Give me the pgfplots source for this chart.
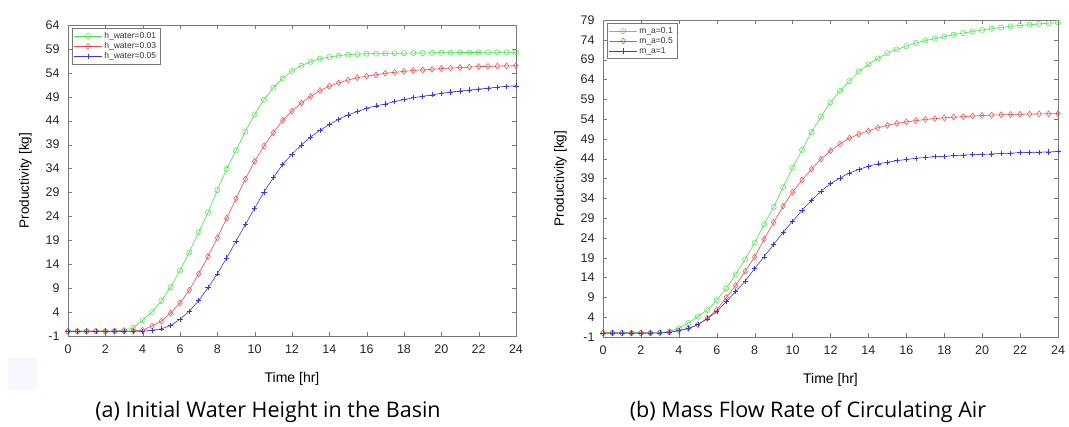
\documentclass[border=0pt]{standalone}
\usepackage{fontspec}
\setmainfont{Liberation Sans}
\newfontfamily\capfont{Open Sans}
\usepackage{pgfplots}
\usepackage{pgfplotstable}
\pgfplotsset{compat=1.18}
\definecolor{mgreen}{RGB}{70,225,70}
\definecolor{mred}{RGB}{235,75,75}
\definecolor{mblue}{RGB}{55,55,230}
\definecolor{axgray}{RGB}{120,120,120}
\pgfplotstableread{
t g r b
0 0 0 0
0.5 0 0 0
1 0 0 0
1.5 0 0 0
2 0 0 0
2.5 0.05 0 0
3 0.2 0 0
3.5 0.7 0.05 0
4 2.3 0.2 0
4.5 4.0 1.1 0.2
5 6.3 2.1 0.5
5.5 9.2 3.8 1.2
6 12.7 5.9 2.5
6.5 16.5 8.6 4.2
7 20.7 12.0 6.4
7.5 24.8 15.6 9.1
8 29.5 19.5 12.0
8.5 33.9 23.6 15.3
9 37.8 27.7 18.8
9.5 41.7 31.8 22.3
10 45.3 35.5 25.7
10.5 48.4 38.7 29.1
11 50.9 41.5 32.1
11.5 52.8 44.1 34.9
12 54.4 46.0 37.0
12.5 55.5 47.7 38.9
13 56.3 49.1 40.6
13.5 57.0 50.3 42.0
14 57.3 51.2 43.2
14.5 57.6 51.9 44.3
15 57.8 52.5 45.2
15.5 57.9 53.0 45.9
16 58.0 53.3 46.6
16.5 58.0 53.6 47.1
17 58.05 53.9 47.5
17.5 58.1 54.1 48.0
18 58.1 54.3 48.4
18.5 58.15 54.5 48.8
19 58.15 54.6 49.1
19.5 58.2 54.75 49.4
20 58.2 54.9 49.7
20.5 58.2 55.0 50.0
21 58.25 55.1 50.2
21.5 58.25 55.2 50.4
22 58.25 55.3 50.6
22.5 58.3 55.35 50.8
23 58.3 55.4 51.0
23.5 58.3 55.45 51.2
24 58.3 55.5 51.3
}\lefttab
\pgfplotstableread{
t g r b
0 0 0 0
0.5 0 0 0
1 0 0 0
1.5 0 0 0
2 0 0 0
2.5 0 0 0
3 0.1 0.05 0.05
3.5 0.4 0.2 0.2
4 1.2 0.6 0.6
4.5 2.5 1.2 1.1
5 4.2 2.1 2.1
5.5 5.8 3.75 3.6
6 8.3 5.8 5.4
6.5 11.3 9.0 7.9
7 14.8 12.0 10.5
7.5 18.6 15.6 13.1
8 22.8 19.2 16.3
8.5 27.4 23.7 19.25
9 31.8 27.9 22.4
9.5 36.8 32.0 25.4
10 41.7 35.6 28.2
10.5 46.2 38.6 31.0
11 50.7 41.4 33.5
11.5 54.6 43.9 35.8
12 58.2 46.0 37.7
12.5 61.1 47.7 39.1
13 63.6 49.2 40.4
13.5 66.0 50.2 41.3
14 67.8 51.0 42.1
14.5 69.3 51.8 42.7
15 70.6 52.4 43.1
15.5 71.6 52.9 43.5
16 72.4 53.3 43.8
16.5 73.2 53.6 44.1
17 73.8 53.9 44.3
17.5 74.3 54.1 44.5
18 74.8 54.3 44.6
18.5 75.3 54.5 44.75
19 75.7 54.6 44.9
19.5 76.1 54.75 45.0
20 76.5 54.9 45.1
20.5 76.8 55.0 45.2
21 77.1 55.1 45.3
21.5 77.4 55.15 45.4
22 77.6 55.2 45.5
22.5 77.8 55.25 45.6
23 78.0 55.3 45.65
23.5 78.2 55.35 45.7
24 78.3 55.4 45.8
}\righttab
\pgfplotsset{
  mstyle/.style={
    scale only axis,
    anchor=south west,
    xmin=0, xmax=24,
    xtick={0,2,...,24},
    axis line style={axgray},
    tick style={axgray},
    major tick length=4pt,
    tick align=inside,
    /pgf/number format/assume math mode=true,
    ticklabel style={font=\fontsize{12.5}{14}\selectfont, text=black!85},
    xticklabel style={yshift=-5pt},
    yticklabel style={xshift=-5pt},
    xlabel={Time [hr]},
    ylabel={Productivity [kg]},
    xlabel style={font=\fontsize{14}{16}\selectfont},
    ylabel style={font=\fontsize{13.5}{15}\selectfont},
    xlabel shift=12pt,
    ylabel shift=7pt,
    legend cell align=left,
    legend image code/.code={\draw[mark repeat=2,mark phase=2] plot coordinates {(0pt,0pt) (14pt,0pt) (28pt,0pt)};},
    legend style={font=\fontsize{8.5}{10}\selectfont, text=black!80, draw=axgray, inner sep=2pt, row sep=-1.5pt, at={(0.008,0.99)}, anchor=north west},
    every axis plot/.append style={line width=0.6pt},
  },
  gs/.style={color=mgreen, mark=o, mark size=2.6pt, mark options={line width=0.5pt}},
  rs/.style={color=mred, mark=diamond, mark size=3pt, mark options={line width=0.5pt}},
  bs/.style={color=mblue, mark=+, mark size=2.6pt, mark options={line width=0.5pt}},
}
\begin{document}
\begin{tikzpicture}[x=1pt,y=1pt]
\path[use as bounding box] (0,0) rectangle (1069,427);
\fill[blue!3] (8,37) rectangle (37,69);
\begin{axis}[mstyle, at={(68pt,91pt)}, width=448pt, height=311pt,
  ymin=-1, ymax=64, ytick={-1,4,...,64}]
\addplot[gs] table[x=t,y=g] {\lefttab};
\addplot[rs] table[x=t,y=r] {\lefttab};
\addplot[bs] table[x=t,y=b] {\lefttab};
\legend{h\_water=0.01, h\_water=0.03, h\_water=0.05}
\end{axis}
\begin{axis}[mstyle, at={(603pt,90pt)}, width=455pt, height=317pt,
  ymin=-1, ymax=79, ytick={-1,4,...,79}]
\addplot[gs] table[x=t,y=g] {\righttab};
\addplot[rs] table[x=t,y=r] {\righttab};
\addplot[bs] table[x=t,y=b] {\righttab};
\legend{m\_a=0.1, m\_a=0.5, m\_a=1}
\end{axis}
\node[font=\capfont\fontsize{21.5}{24}\selectfont, anchor=base] at (268,9) {(a) Initial Water Height in the Basin};
\node[font=\capfont\fontsize{21.5}{24}\selectfont, anchor=base] at (808,9) {(b) Mass Flow Rate of Circulating Air};
\end{tikzpicture}
\end{document}
